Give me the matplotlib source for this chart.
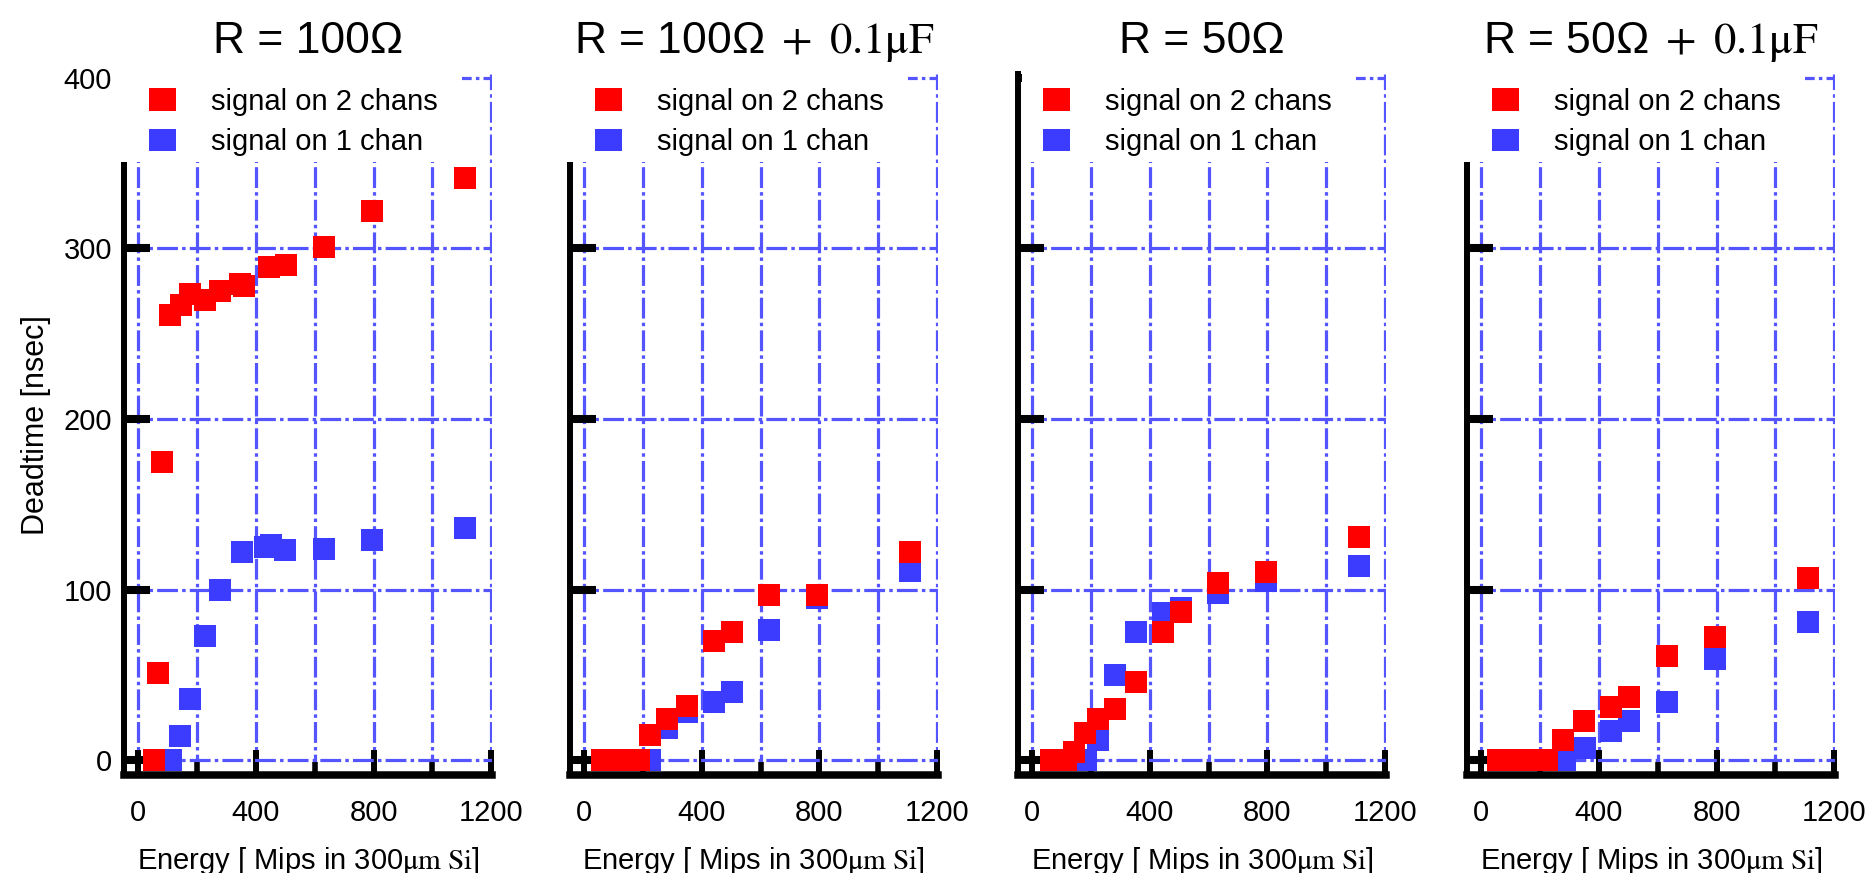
import matplotlib
matplotlib.use("Agg")
import matplotlib.pyplot as plt
import matplotlib.patches as mpatches

plt.rcParams['font.family'] = ['Liberation Sans', 'DejaVu Sans']
plt.rcParams['mathtext.fontset'] = 'stix'
plt.rcParams['lines.scale_dashes'] = False

# ============  data  ============
titles = ["R = 100Ω",
          "R = 100Ω" + r"$\ +\ 0.1\mathrm{\mu F}$",
          "R = 50Ω",
          "R = 50Ω" + r"$\ +\ 0.1\mathrm{\mu F}$"]
legend_labels = ["signal on 2 chans", "signal on 1 chan"]

# signal on 2 chans (red)
red_x = [
    [52, 67, 82, 108, 144, 175, 225, 277, 345, 358, 445, 501, 633, 796, 1110],
    [62, 108, 144, 185, 225, 280, 350, 441, 503, 630, 793, 1110],
    [62, 113, 143, 179, 224, 281, 352, 444, 505, 630, 796, 1110],
    [58, 100, 140, 180, 223, 278, 350, 441, 503, 632, 795, 1110],
]
red_y = [
    [0, 51, 175, 261, 267, 273, 270, 275, 279, 278, 289, 290, 301, 322, 341],
    [0, 0, 0, 0, 15, 24, 32, 70, 75, 97, 97, 122],
    [0, 0, 5, 16, 24, 30, 46, 75, 87, 104, 110, 131],
    [0, 0, 0, 0, 0, 12, 23, 31, 37, 61, 72, 107],
]
# signal on 1 chan (blue)
blue_x = [
    [110, 140, 175, 225, 277, 353, 430, 452, 500, 633, 796, 1110],
    [224, 282, 350, 441, 503, 630, 793, 1110],
    [184, 223, 281, 352, 444, 505, 630, 796, 1110],
    [283, 354, 441, 503, 632, 795, 1110],
]
blue_y = [
    [0, 14, 36, 73, 100, 122, 125, 126, 123, 124, 129, 136],
    [0, 19, 28, 34, 40, 76, 95, 111],
    [0, 12, 50, 75, 86, 89, 98, 105, 114],
    [0, 7, 17, 23, 34, 59, 81],
]

RED = '#ff0000'
BLUE = '#3c3cff'
GRID = '#5555ff'
dashdot = (0, (15, 3, 2.5, 3))

# ============  plot  ============
fig = plt.figure(figsize=(18.71, 8.73), dpi=100)
lefts = [0.0661, 0.3044, 0.5439, 0.7839]
box_left = [-0.03, -0.03, 0.012, -0.03]

for i in range(4):
    ax = fig.add_axes([lefts[i], 0.1123, 0.197, 0.8025])
    ax.plot(blue_x[i], blue_y[i], 's', color=BLUE, ms=15.5, mew=0)
    ax.plot(red_x[i], red_y[i], 's', color=RED, ms=15.5, mew=0)

    ax.set_xlim(-50, 1204)
    ax.set_ylim(-8.7, 402)
    ax.set_xticks([0, 400, 800, 1200])
    ax.set_xticks([200, 600, 1000], minor=True)
    ax.set_yticks([0, 100, 200, 300, 400])

    ax.set_axisbelow(True)
    ax.grid(which='both', axis='x', color=GRID, lw=2.3, linestyle=dashdot)
    ax.grid(which='major', axis='y', color=GRID, lw=2.3, linestyle=dashdot)

    ax.spines['top'].set_visible(False)
    ax.spines['right'].set_visible(False)
    ax.spines['left'].set_linewidth(4.3)
    ax.spines['bottom'].set_linewidth(5.4)

    ax.tick_params(axis='y', direction='in', length=19, width=5.8, pad=8.4,
                   labelsize=21, labelleft=(i == 0))
    ax.tick_params(axis='x', which='major', direction='in', length=18, width=4.3,
                   pad=17, labelsize=21)
    ax.tick_params(axis='x', which='minor', direction='in', length=9.5, width=4)

    ax.set_xlabel(r"Energy [ Mips in 300$\mathrm{\mu m\ Si}$]", fontsize=21, labelpad=13)
    if i == 0:
        ax.set_ylabel("Deadtime [nsec]", fontsize=22, labelpad=9)
    ax.set_title(titles[i], fontsize=32, pad=15.4)

    # white legend box hiding the top of the grid
    ax.add_patch(mpatches.Rectangle((box_left[i], 0.875), 0.918 - box_left[i], 0.14,
                                    transform=ax.transAxes, facecolor='white',
                                    edgecolor='none', clip_on=False, zorder=3))
    handles = [mpatches.Patch(facecolor=RED, edgecolor='none'),
               mpatches.Patch(facecolor=BLUE, edgecolor='none')]
    ax.legend(handles, legend_labels, loc='upper left', bbox_to_anchor=(0.068, 0.981),
              frameon=False, borderpad=0, borderaxespad=0, handlelength=0.93,
              handleheight=0.79, handletextpad=1.2, labelspacing=0.43, fontsize=21)

fig.savefig('out.png', dpi=100)
